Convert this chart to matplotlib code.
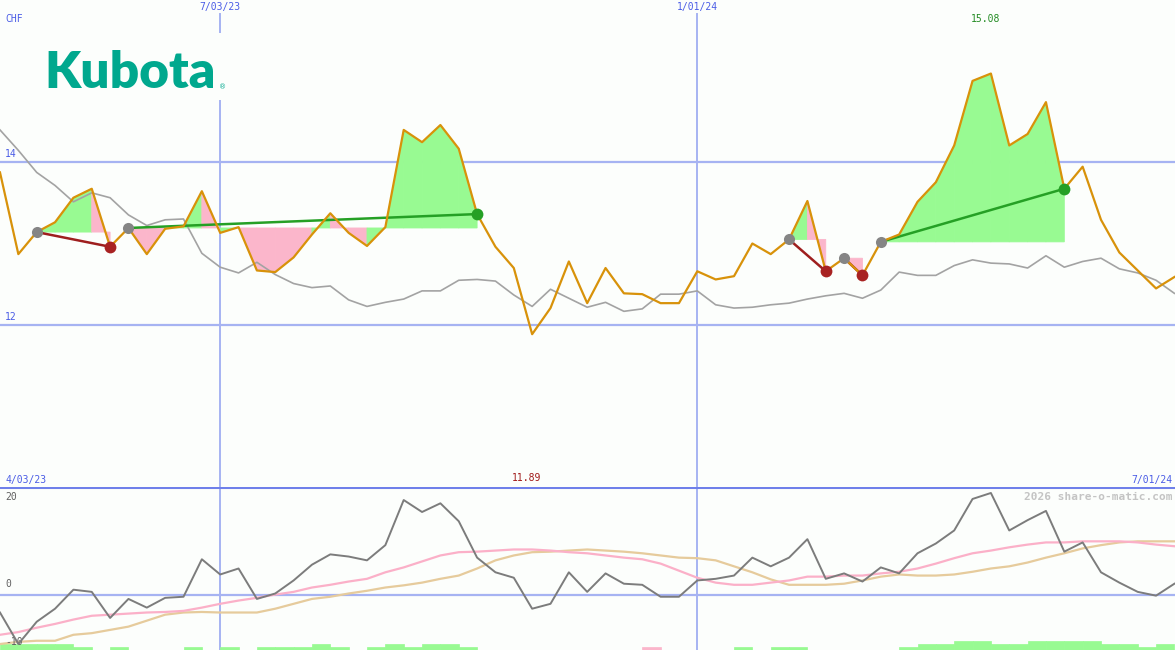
import numpy as np
import pandas as pd
import matplotlib
matplotlib.use("Agg")
import matplotlib.pyplot as plt
import matplotlib.dates as mdates
from matplotlib.patches import Rectangle

# ---------------- data ----------------
start_date = "2023-04-10"
n_weeks = 65
dates = pd.date_range(start_date, periods=n_weeks, freq="7D")

price = [13.87, 12.87, 13.14, 13.26, 13.56, 13.67, 12.96, 13.19, 12.87, 13.18,
         13.21, 13.64, 13.13, 13.20, 12.67, 12.65, 12.83, 13.11, 13.37, 13.13,
         12.97, 13.20, 14.39, 14.24, 14.45, 14.16, 13.36, 12.96, 12.70, 11.89,
         12.21, 12.78, 12.27, 12.70, 12.39, 12.38, 12.27, 12.27, 12.66, 12.56,
         12.60, 13.00, 12.87, 13.05, 13.52, 12.66, 12.82, 12.61, 13.02, 13.11,
         13.51, 13.75, 14.20, 14.99, 15.08, 14.20, 14.34, 14.73, 13.67, 13.94,
         13.29, 12.89, 12.67, 12.45, 12.59]

price_ma = [14.39, 14.14, 13.87, 13.71, 13.51, 13.62, 13.56, 13.35, 13.22, 13.29,
            13.30, 12.88, 12.71, 12.64, 12.77, 12.62, 12.51, 12.46, 12.48, 12.31,
            12.23, 12.28, 12.32, 12.42, 12.42, 12.55, 12.56, 12.54, 12.37, 12.23,
            12.44, 12.33, 12.22, 12.28, 12.17, 12.20, 12.38, 12.38, 12.42, 12.25,
            12.21, 12.22, 12.25, 12.27, 12.32, 12.36, 12.39, 12.33, 12.43, 12.65,
            12.61, 12.61, 12.73, 12.80, 12.76, 12.75, 12.70, 12.85, 12.71, 12.78,
            12.82, 12.69, 12.64, 12.55, 12.39]

momentum = [-3.1, -8.9, -4.8, -2.4, 1.1, 0.7, -4.1, -0.6, -2.2, -0.4,
             -0.2, 6.7, 3.9, 5.0, -0.6, 0.4, 2.8, 5.7, 7.6, 7.2,
             6.5, 9.3, 17.6, 15.4, 17.0, 13.7, 7.0, 4.3, 3.3, -2.4,
             -1.5, 4.3, 0.7, 4.1, 2.2, 2.0, -0.2, -0.2, 2.8, 3.1,
             3.7, 7.0, 5.4, 7.0, 10.4, 3.1, 4.1, 2.6, 5.2, 4.1,
             7.8, 9.6, 12.0, 17.8, 18.9, 12.0, 13.9, 15.6, 8.1, 9.8,
             4.3, 2.4, 0.7, 0.0, 2.2]

momentum_fast = [-7.2, -6.7, -5.9, -5.2, -4.4, -3.7, -3.5, -3.3, -3.1, -3.0,
                 -2.8, -2.2, -1.5, -0.9, -0.4, 0.2, 0.7, 1.5, 2.0, 2.6,
                 3.1, 4.3, 5.2, 6.3, 7.4, 8.0, 8.1, 8.3, 8.5, 8.5,
                 8.3, 8.0, 7.8, 7.4, 7.0, 6.7, 5.9, 4.6, 3.3, 2.4,
                 2.0, 2.0, 2.4, 2.8, 3.5, 3.5, 3.7, 3.7, 4.1, 4.4,
                 5.0, 5.9, 6.9, 7.8, 8.3, 8.9, 9.4, 9.8, 9.8, 10.0,
                 10.0, 10.0, 9.8, 9.4, 9.1]

momentum_slow = [-8.9, -8.5, -8.3, -8.3, -7.2, -6.9, -6.3, -5.7, -4.6, -3.5,
                 -3.1, -3.0, -3.1, -3.1, -3.1, -2.4, -1.5, -0.6, -0.2, 0.4,
                 0.9, 1.5, 1.9, 2.4, 3.1, 3.7, 5.0, 6.5, 7.4, 8.0,
                 8.1, 8.3, 8.5, 8.3, 8.1, 7.8, 7.4, 7.0, 6.9, 6.5,
                 5.4, 4.3, 3.0, 2.0, 2.0, 2.0, 2.2, 2.8, 3.5, 3.9,
                 3.7, 3.7, 3.9, 4.4, 5.0, 5.4, 6.1, 7.0, 7.8, 8.7,
                 9.3, 9.8, 10.0, 10.0, 10.0]

# signal strength bars (+ green, - pink), one per week interval
signal_bars = [2, 2, 2, 2, 1, 0, 1, 0, 0, 0,
               1, 0, 1, 0, 1, 1, 1, 2, 1, 0,
               1, 2, 1, 2, 2, 1, 0, 0, 0, 0,
               0, 0, 0, 0, 0, -1, 0, 0, 0, 0,
               1, 0, 1, 1, 0, 0, 0, 0, 0, 1,
               2, 2, 3, 3, 2, 2, 3, 3, 3, 3,
               2, 2, 1, 2]

trade_entries = [2, 7, 43, 46, 48]
trade_exits = [6, 26, 45, 47, 58]

top_ticks = [12, 14]
top_tick_labels = ["12", "14"]
low_ticks = [20, 0, -10]
low_tick_labels = ["20", "0", "-10"]
date_marks = ["2023-07-03", "2024-01-01"]
date_mark_labels = ["7/03/23", "1/01/24"]
currency = "CHF"
period_start_label = "4/03/23"
period_end_label = "7/01/24"
hi_label = "15.08"
lo_label = "11.89"
credit = "2026 share-o-matic.com"
logo_text = "Kubota"

# ---------------- style ----------------
W, H = 1175, 650
BG = "#fcfefc"
GRID = "#a6b3f2"
BORDER = "#6f80ea"
BLUE_TXT = "#4a5ce6"
ORANGE = "#d8920a"
GREEN_FILL = "#98fa92"
PINK_FILL = "#fbb6cb"
MONO = "DejaVu Sans Mono"

fig = plt.figure(figsize=(W / 100, H / 100), dpi=100, facecolor=BG)
split = 487  # px from top where lower panel starts
ax = fig.add_axes([0, (H - split) / H, 1, split / H])
ax2 = fig.add_axes([0, 0, 1, (H - split) / H])

xn = mdates.date2num(dates)
week = xn[1] - xn[0]
x0 = xn[0]
x1 = xn[0] + week * (W / 18.35)

for a in (ax, ax2):
    a.set_facecolor(BG)
    a.set_xlim(x0, x1)
    for s in a.spines.values():
        s.set_visible(False)
    a.set_xticks([])
    a.set_yticks([])

ax.set_ylim(10.02, 15.98)
ax2.set_ylim(-10, 20)

# grid lines
for t in top_ticks:
    ax.axhline(t, color=GRID, lw=1.6, zorder=1)
ax2.axhline(0.1, color=GRID, lw=1.6, zorder=1)
for dm in date_marks:
    xv = mdates.date2num(pd.Timestamp(dm))
    ax.axvline(xv, ymin=0, ymax=1 - 14 / split, color=GRID, lw=1.4, zorder=1)
    ax2.axvline(xv, color=GRID, lw=1.4, zorder=1)
ax2.axhline(20, color=BORDER, lw=2.2, zorder=1)

# trade fills
price_arr = np.array(price)
for e, x in zip(trade_entries, trade_exits):
    base = price_arr[e]
    for i in range(e, x):
        poly_x = [xn[i], xn[i], xn[i + 1], xn[i + 1]]
        poly_y = [base, price_arr[i], price_arr[i + 1], base]
        col = GREEN_FILL if price_arr[i + 1] > base else PINK_FILL
        ax.fill(poly_x, poly_y, facecolor=col, edgecolor=col, lw=0.6, zorder=2)

# moving average & price
ax.plot(xn, price_ma, color="#a3a3a3", lw=1.2, zorder=3)
ax.plot(xn, price, color=ORANGE, lw=1.6, zorder=5)

# trade lines and markers
for e, x in zip(trade_entries, trade_exits):
    win = price_arr[x] > price_arr[e]
    lc = "#25a025" if win else "#9e1e1e"
    dc = "#25a025" if win else "#a82222"
    ax.plot([xn[e], xn[x]], [price_arr[e], price_arr[x]], color=lc, lw=1.8, zorder=4)
    ax.plot(xn[e], price_arr[e], "o", ms=8, color="#858585", mec="none", zorder=6)
    ax.plot(xn[x], price_arr[x], "o", ms=8.5, color=dc, mec="none", zorder=6)

# lower panel
ax2.plot(xn, momentum_slow, color="#e6cb9c", lw=1.6, zorder=3)
ax2.plot(xn, momentum_fast, color="#fbb0c8", lw=1.6, zorder=3)
ax2.plot(xn, momentum, color="#7c7c7c", lw=1.4, zorder=4)
bar_unit = 0.55
for i, v in enumerate(signal_bars):
    if v == 0:
        continue
    c = GREEN_FILL if v > 0 else PINK_FILL
    ax2.bar(xn[i], abs(v) * bar_unit, width=week, bottom=-10, align="edge",
            color=c, edgecolor=c, lw=0.5, zorder=2)


# ---------------- text ----------------
def ftxt(px, py, s, color, ha="left", va="baseline", size=7, **kw):
    fig.text(px / W, 1 - py / H, s, color=color, ha=ha, va=va, size=size,
             family=MONO, **kw)


ftxt(5, 22, currency, BLUE_TXT)
for t, lab in zip(top_ticks, top_tick_labels):
    ax.text(x0 + week * 0.27, t + 0.035, lab, color=BLUE_TXT, size=7, family=MONO,
            va="bottom", ha="left")
for dm, lab in zip(date_marks, date_mark_labels):
    xv = mdates.date2num(pd.Timestamp(dm))
    ax.text(xv, 15.98 - 0.02, lab, color=BLUE_TXT, size=7, family=MONO,
            ha="center", va="top")
imax = int(np.argmax(price_arr))
imin = int(np.argmin(price_arr))
ax.text(xn[imax] - week * 0.3, 15.98 - 0.17, hi_label, color="#228b22", size=7,
        family=MONO, ha="center", va="top")
ftxt(5, 483, period_start_label, BLUE_TXT)
ax2.text(xn[imin] - week * 0.3, 20.8, lo_label, color="#a01818", size=7,
         family=MONO, ha="center", va="bottom")
ftxt(1172, 483, period_end_label, BLUE_TXT, ha="right")
for t, lab in zip(low_ticks, low_tick_labels):
    yoff = {20: -1.0, 0: 1.2, -10: 0.6}[t]
    ax2.text(x0 + week * 0.27, t + yoff, lab, color="#606060", size=7, family=MONO,
             va="top" if t == 20 else "bottom", ha="left")
ftxt(1172, 500, credit, "#c4c4c4", ha="right", size=8, weight="bold")

# logo (with background box hiding the grid line behind it)
fig.add_artist(Rectangle((30 / W, 1 - 100 / H), 196 / W, 67 / H,
                         transform=fig.transFigure, facecolor=BG,
                         edgecolor="none", zorder=5))
fig.text(44 / W, 1 - 88 / H, logo_text, color="#00a88e", size=37, family="Lato",
         weight="heavy", ha="left", va="baseline", zorder=6)
fig.text(219 / W, 1 - 89 / H, "®", color="#00a88e", size=5, ha="left",
         va="baseline", zorder=6)

fig.savefig("out.png", dpi=100, facecolor=BG)
